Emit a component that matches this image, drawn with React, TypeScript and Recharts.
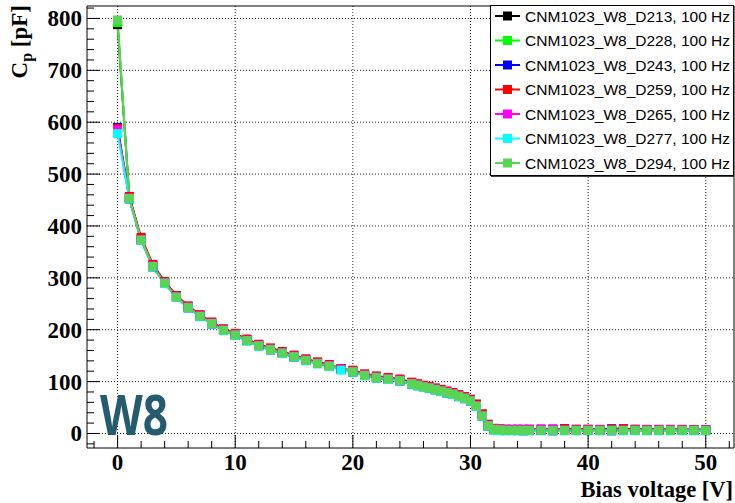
import {
  LineChart,
  Line,
  XAxis,
  YAxis,
  CartesianGrid,
  ReferenceLine,
  Legend,
} from "recharts";

// Bias voltage [V] of each measurement step
const voltage = [
  0, 1, 2, 3, 4, 5, 6, 7, 8, 9, 10, 11, 12, 13, 14, 15, 16, 17, 18, 19, 20,
  21, 22, 23, 24, 25, 25.5, 26, 26.5, 27, 27.5, 28, 28.5, 29, 29.5, 30, 30.5,
  31, 31.5, 32, 32.5, 33, 33.5, 34, 34.5, 35, 36, 37, 38, 39, 40, 41, 42, 43,
  44, 45, 46, 47, 48, 49, 50,
];

// Cp [pF] per diode
const d213 = [
  788, 455, 375, 324, 292, 265, 244, 228, 213, 200, 191, 180, 171, 163, 156,
  149, 142, 137, 131, 125, 120, 113, 109, 106, 103, 97, 94, 91, 89, 86, 83, 80,
  77, 74, 70, 65, 55, 36, 16, 9, 8, 8, 7, 8, 7, 8, 7, 8, 9, 8, 8, 7, 9, 9, 8,
  7, 7, 7, 7, 7, 7,
];
const d228 = [
  792, 453, 373, 322, 290, 263, 243, 226, 212, 199, 190, 179, 169, 162, 155,
  148, 141, 135, 130, 125, 119, 112, 108, 105, 102, 96, 93, 90, 88, 85, 82, 79,
  76, 72, 68, 63, 53, 34, 15, 8, 7, 6, 6, 6, 6, 6, 6, 6, 6, 6, 6, 6, 6, 6, 6,
  6, 6, 6, 6, 6, 6,
];
const d243 = [
  590, 452, 373, 321, 290, 263, 242, 226, 211, 199, 189, 179, 169, 161, 155,
  147, 141, 135, 129, 124, 118, 112, 107, 104, 101, 95, 92, 90, 87, 84, 81, 78,
  75, 71, 67, 62, 52, 33, 14, 7, 6, 6, 6, 6, 5, 6, 6, 5, 6, 6, 6, 6, 5, 6, 6,
  6, 6, 6, 6, 6, 6,
];
const d259 = [
  588, 457, 378, 326, 293, 266, 246, 229, 215, 202, 193, 182, 172, 165, 158,
  151, 144, 138, 133, 125, 122, 115, 111, 108, 105, 99, 96, 93, 91, 88, 85, 82,
  79, 75, 71, 66, 57, 38, 18, 10, 9, 8, 8, 8, 8, 8, 8, 8, 9, 8, 8, 8, 8, 9, 8,
  8, 8, 8, 8, 7, 7,
];
const d265 = [
  585, 454, 374, 323, 291, 264, 244, 227, 213, 200, 191, 180, 170, 163, 156,
  149, 142, 136, 131, 124, 120, 113, 109, 106, 103, 97, 94, 91, 89, 86, 83, 80,
  77, 73, 69, 64, 54, 35, 16, 9, 8, 8, 8, 8, 8, 8, 9, 9, 7, 7, 7, 7, 7, 7, 7,
  7, 7, 7, 7, 7, 7,
];
const d277 = [
  578, 452, 372, 321, 289, 262, 242, 225, 211, 198, 189, 178, 168, 161, 154,
  147, 140, 134, 129, 122, 118, 111, 107, 104, 101, 95, 92, 89, 87, 84, 81, 78,
  75, 71, 67, 62, 52, 33, 14, 6, 5, 5, 5, 5, 5, 5, 5, 5, 5, 5, 5, 5, 5, 5, 5,
  5, 5, 5, 5, 5, 5,
];
// D294 has no reading at 19 V
const d294 = [
  797, 453, 373, 322, 290, 263, 243, 226, 212, 199, 190, 179, 169, 162, 155,
  148, 141, 135, 130, null, 119, 112, 108, 105, 102, 96, 93, 90, 88, 85, 82,
  79, 76, 72, 68, 63, 53, 34, 15, 8, 7, 6, 6, 6, 6, 6, 6, 6, 6, 6, 6, 6, 6, 6,
  6, 6, 6, 6, 6, 6, 6,
];

const xTicks = [
  -2, 0, 2, 4, 6, 8, 10, 12, 14, 16, 18, 20, 22, 24, 26, 28, 30, 32, 34, 36,
  38, 40, 42, 44, 46, 48, 50, 52,
];
const xMajor = [0, 10, 20, 30, 40, 50];
const yTicks = [
  -20, 0, 20, 40, 60, 80, 100, 120, 140, 160, 180, 200, 220, 240, 260, 280,
  300, 320, 340, 360, 380, 400, 420, 440, 460, 480, 500, 520, 540, 560, 580,
  600, 620, 640, 660, 680, 700, 720, 740, 760, 780, 800, 820,
];
const yMajor = [0, 100, 200, 300, 400, 500, 600, 700, 800];

const X_DOMAIN: [number, number] = [-2.6, 52.4];
const Y_DOMAIN: [number, number] = [-28, 824];

const series = [
  { key: "D213", name: "CNM1023_W8_D213, 100 Hz", color: "#000000", values: d213 },
  { key: "D228", name: "CNM1023_W8_D228, 100 Hz", color: "#00ff00", values: d228 },
  { key: "D243", name: "CNM1023_W8_D243, 100 Hz", color: "#0000ff", values: d243 },
  { key: "D259", name: "CNM1023_W8_D259, 100 Hz", color: "#ff0000", values: d259 },
  { key: "D265", name: "CNM1023_W8_D265, 100 Hz", color: "#ff00ff", values: d265 },
  { key: "D277", name: "CNM1023_W8_D277, 100 Hz", color: "#00ffff", values: d277 },
  { key: "D294", name: "CNM1023_W8_D294, 100 Hz", color: "#59d454", values: d294 },
];

const rows = voltage.map((v, i) => {
  const row: Record<string, number | null> = { v };
  series.forEach((s) => {
    row[s.key] = s.values[i];
  });
  return row;
});

const SERIF = "'Liberation Serif', 'Times New Roman', serif";
const SANS = "'Liberation Sans', Arial, sans-serif";

function squareDot(color: string) {
  return (props: any) => {
    const { cx, cy, index } = props;
    if (cx == null || cy == null) return <g key={`n-${index}`} />;
    return (
      <rect
        key={`d-${index}`}
        x={cx - 4.5}
        y={cy - 4.5}
        width={9}
        height={9}
        fill={color}
      />
    );
  };
}

function YTick(props: any) {
  const { x, y, payload } = props;
  const major = yMajor.includes(payload.value);
  return (
    <g>
      <line x1={x} x2={x + (major ? 13 : 7)} y1={y} y2={y} stroke="#000" />
      {major && (
        <text
          x={x - 5}
          y={y + 8}
          textAnchor="end"
          fontFamily={SERIF}
          fontWeight="bold"
          fontSize={23}
          fill="#000"
        >
          {payload.value}
        </text>
      )}
    </g>
  );
}

function XTick(props: any) {
  const { x, y, payload } = props;
  const major = xMajor.includes(payload.value);
  return (
    <g>
      <line x1={x} x2={x} y1={y} y2={y - (major ? 13 : 7)} stroke="#000" />
      {major && (
        <text
          x={x}
          y={y + 22}
          textAnchor="middle"
          fontFamily={SERIF}
          fontWeight="bold"
          fontSize={23}
          fill="#000"
        >
          {payload.value}
        </text>
      )}
    </g>
  );
}

function LegendBox() {
  return (
    <svg width={245} height={172} style={{ display: "block" }}>
      <rect x={0.5} y={0.5} width={243} height={170} fill="#fff" stroke="#000" />
      <line x1={1} x2={244} y1={171} y2={171} stroke="#000" strokeWidth={1.5} />
      {series.map((s, i) => {
        const cy = 11 + i * 24.5;
        return (
          <g key={s.key}>
            <line x1={5} x2={30} y1={cy} y2={cy} stroke={s.color} strokeWidth={2} />
            <rect x={13} y={cy - 4.5} width={9} height={9} fill={s.color} />
            <text
              x={35}
              y={cy + 5.5}
              fontFamily={SANS}
              fontSize={15.5}
              fill="#000"
            >
              {s.name}
            </text>
          </g>
        );
      })}
    </svg>
  );
}

export default function App() {
  return (
    <div
      style={{
        position: "absolute",
        left: 0,
        top: 0,
        width: 735,
        height: 503,
        background: "#fff",
      }}
    >
      <LineChart
        width={735}
        height={503}
        data={rows}
        margin={{ top: 6, right: 1, bottom: 0, left: 0 }}
      >
        <CartesianGrid
          horizontalValues={yMajor}
          verticalValues={xMajor}
          stroke="#222"
          strokeDasharray="1 2"
        />
        <XAxis
          dataKey="v"
          type="number"
          domain={X_DOMAIN}
          ticks={xTicks}
          interval={0}
          allowDataOverflow
          height={55}
          tickSize={0}
          tickMargin={0}
          tickLine={false}
          tick={<XTick />}
          axisLine={{ stroke: "#000" }}
        />
        <YAxis
          type="number"
          domain={Y_DOMAIN}
          ticks={yTicks}
          interval={0}
          allowDataOverflow
          width={87}
          tickSize={0}
          tickMargin={0}
          tickLine={false}
          tick={<YTick />}
          axisLine={{ stroke: "#000" }}
        />
        <ReferenceLine y={Y_DOMAIN[1]} stroke="#000" />
        <ReferenceLine x={X_DOMAIN[1]} stroke="#000" />
        {series.map((s) => (
          <Line
            key={s.key}
            type="linear"
            dataKey={s.key}
            name={s.name}
            stroke={s.color}
            strokeWidth={2}
            dot={squareDot(s.color)}
            activeDot={false}
            connectNulls
            isAnimationActive={false}
          />
        ))}
        <Legend
          layout="vertical"
          align="center"
          verticalAlign="middle"
          wrapperStyle={{ left: 490, top: 5, width: 245, height: 172 }}
          content={() => <LegendBox />}
        />
      </LineChart>
      <svg
        width={735}
        height={503}
        style={{ position: "absolute", left: 0, top: 0, pointerEvents: "none" }}
      >
        <text
          transform="rotate(-90)"
          x={-5}
          y={27}
          textAnchor="end"
          fontFamily={SERIF}
          fontWeight="bold"
          fontSize={23}
          fill="#000"
        >
          C
          <tspan dy={5} fontSize={16}>
            p
          </tspan>
          <tspan dy={-5}> [pF]</tspan>
        </text>
        <text
          x={733}
          y={497}
          textAnchor="end"
          fontFamily={SERIF}
          fontWeight="bold"
          fontSize={22.5}
          fill="#000"
        >
          Bias voltage [V]
        </text>
        <text
          x={100}
          y={435}
          fontFamily="'Open Sans', 'DejaVu Sans', sans-serif"
          fontWeight="bold"
          fontSize={55}
          textLength={68}
          lengthAdjust="spacingAndGlyphs"
          fill="#245b6e"
        >
          W8
        </text>
      </svg>
    </div>
  );
}
